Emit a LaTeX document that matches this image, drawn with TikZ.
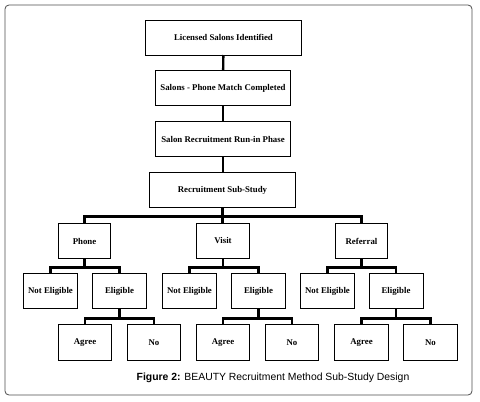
\documentclass[tikz,border=0pt]{standalone}
\usepackage{fontspec}
\setmainfont{Liberation Serif}
\newfontfamily\capfont{Liberation Sans}
\usepackage{tikz}
\usetikzlibrary{positioning}
\colorlet{framecol}{black!70}

\begin{document}
\begin{tikzpicture}[
x=1pt,y=-1pt,
Box/.style={draw=black,line width=0.8pt,inner sep=1pt,align=center,
  font=\fontsize{8.8}{10}\selectfont\bfseries,minimum height=35pt},
Wide/.style={Box,minimum width=#1},
Link/.style={draw=black,line width=2.4pt},
every node/.style={outer sep=0pt}
]
\useasboundingbox (0,0) rectangle (480,402);
\draw[framecol,line width=0.8pt,rounded corners=4pt] (5,5) rectangle (472,395);

% upper chain
\node[Wide=156pt] (licensed) at (223.5,37.5) {Licensed Salons Identified};
\node[Wide=135pt] (match) at (223,88) {Salons - Phone Match Completed};
\node[Wide=135pt] (runin) at (223,139) {Salon Recruitment Run-in Phase};
\node[Wide=146pt] (substudy) at (222.5,190) {Recruitment Sub-Study};

% methods
\node[Wide=52pt] (phone) at (84.5,241) {Phone};
\node[Wide=53pt] (visit) at (223,241) {Visit};
\node[Wide=52pt] (referral) at (361.5,241) {Referral};

% eligibility
\node[Wide=54pt] (notA) at (50.5,291) {Not Eligible};
\node[Wide=54pt] (eligA) at (119.5,291) {Eligible};
\node[Wide=54pt] (notB) at (189.5,291) {Not Eligible};
\node[Wide=54pt] (eligB) at (258.5,291) {Eligible};
\node[Wide=54pt] (notC) at (327.5,291) {Not Eligible};
\node[Wide=54pt] (eligC) at (396,291) {Eligible};

% outcome
\node[Wide=53pt,minimum height=36pt] (agreeA) at (85,342.5) {Agree};
\node[Wide=53pt,minimum height=36pt] (noA) at (154,342.5) {No};
\node[Wide=53pt,minimum height=36pt] (agreeB) at (223,342.5) {Agree};
\node[Wide=53pt,minimum height=36pt] (noB) at (292,342.5) {No};
\node[Wide=54pt,minimum height=36pt] (agreeC) at (361.5,342.5) {Agree};
\node[Wide=54pt,minimum height=36pt] (noC) at (430.5,342.5) {No};

\draw[Link] (licensed) -- (match);
\draw[Link] (match) -- (runin);
\draw[Link] (runin) -- (runin |- substudy.north);

\draw[Link] (substudy.south) -- (substudy.south |- visit.north);
\draw[Link] (phone.north) -- ++(0,-7) -| (referral.north);

\draw[Link] (phone.south) -- ++(0,8);
\draw[Link] (notA.north) -- ++(0,-6) -| (eligA.north);
\draw[Link] (visit.south) -- ++(0,8);
\draw[Link] (notB.north) -- ++(0,-6) -| (eligB.north);
\draw[Link] (referral.south) -- ++(0,8);
\draw[Link] (notC.north) -- ++(0,-6) -| (eligC.north);

\draw[Link] (eligA.south) -- ++(0,9);
\draw[Link] (agreeA.north) -- ++(0,-6) -| (noA.north);
\draw[Link] (eligB.south) -- ++(0,9);
\draw[Link] (agreeB.north) -- ++(0,-6) -| (noB.north);
\draw[Link] (eligC.south) -- ++(0,9);
\draw[Link] (agreeC.north) -- ++(0,-6) -| (noC.north);

\node[font=\capfont\fontsize{10.4}{12}\selectfont] (caption) at (273,378)
  {\textbf{Figure 2:} BEAUTY Recruitment Method Sub-Study Design};

\end{tikzpicture}
\end{document}
